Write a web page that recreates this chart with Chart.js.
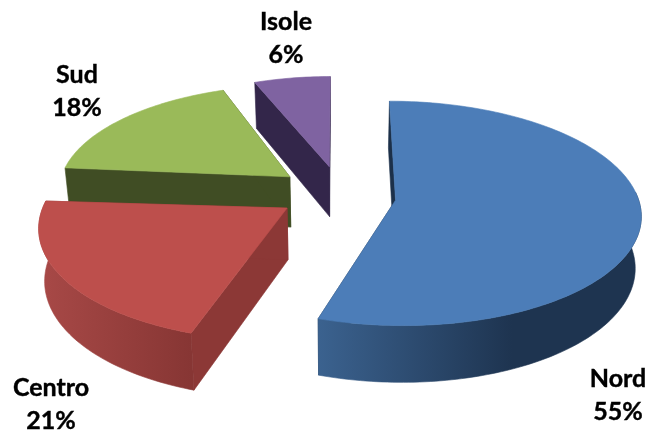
<!DOCTYPE html>
<html>
<head>
<meta charset="utf-8">
<script src="https://cdn.jsdelivr.net/npm/chart.js@4"></script>
<style>
  html, body { margin: 0; background: #fff; }
  canvas { display: block; }
</style>
</head>
<body>
<canvas id="pie3d" width="646" height="430"></canvas>
<script>
const categories = ['Nord', 'Centro', 'Sud', 'Isole'];
const shares = [55, 21, 18, 6];
const topColors = ['#4c7db8', '#bd4f4c', '#9aba59', '#7f63a1'];

// side wall colours: cut face, outer wall light end, outer wall dark end
const wallColors = [
    ['#1c3049', '#3b628f', '#1e3450'],
    ['#8c3836', '#a84947', '#873634'],
    ['#404d24', '#404d24', '#404d24'],
    ['#33264a', '#33264a', '#33264a']
];

// painter's order, back slices first
const drawOrder = [3, 2, 0, 1];

// small per slice corrections for the squashed perspective
const sliceFix = [
    { scale: 0.98, dx: 2, dy: 3, persp: 0.12, turn: 0 },
    { scale: 0.97, dx: 0, dy: 0, persp: 0.15, turn: 0 },
    { scale: 0.94, dx: 0, dy: -1, persp: 0.12, turn: 0.026 },
    { scale: 0.92, dx: 4, dy: -1, persp: 0.1, turn: 0 }
];

const labelSpots = [[618, 379], [51, 388], [77, 75], [286, 22]];

const SQUASH = 0.453;
const PERSP = 0.1;
const DEPTH = 51;
const BOTTOM_NARROW = 0.98;

const pie3d = {
    id: 'pie3d',
    beforeDatasetsDraw(chart) {
        const ctx = chart.ctx;
        const arcs = chart.getDatasetMeta(0).data;

        drawOrder.forEach(function (i) {
            const arc = arcs[i];
            const fix = sliceFix[i];
            const R = arc.outerRadius;
            const mid = (arc.startAngle + arc.endAngle) / 2;
            const ox = Math.cos(mid) * arc.options.offset / R;
            const oy = Math.sin(mid) * arc.options.offset / R;

            function project(px, py, low) {
                const s = 1 / (1 - fix.persp * py);
                let x = R * px * s;
                let y = R * SQUASH * py * s + fix.dy;
                if (low) {
                    x *= BOTTOM_NARROW;
                    y += DEPTH / (1 - PERSP * py);
                }
                return [arc.x + x + fix.dx, arc.y + y];
            }

            const apex = [ox, oy];
            const rim = [];
            const steps = Math.ceil((arc.endAngle - arc.startAngle) / 0.02);
            for (let n = 0; n <= steps; n++) {
                const a = arc.startAngle + fix.turn + (arc.endAngle - arc.startAngle) * n / steps;
                rim.push([ox + Math.cos(a) * fix.scale, oy + Math.sin(a) * fix.scale]);
            }

            function fillPoly(points, style) {
                ctx.beginPath();
                points.forEach(function (p, n) {
                    if (n === 0) ctx.moveTo(p[0], p[1]);
                    else ctx.lineTo(p[0], p[1]);
                });
                ctx.closePath();
                ctx.fillStyle = style;
                ctx.strokeStyle = style;
                ctx.lineWidth = 0.6;
                ctx.fill();
                ctx.stroke();
            }

            const colors = wallColors[i];
            const first = rim[0];
            const last = rim[rim.length - 1];

            // the two cut faces
            fillPoly([project(apex[0], apex[1]), project(first[0], first[1]), project(first[0], first[1], true), project(apex[0], apex[1], true)], colors[0]);
            fillPoly([project(apex[0], apex[1]), project(last[0], last[1]), project(last[0], last[1], true), project(apex[0], apex[1], true)], colors[0]);

            // outer wall, only the part facing the viewer
            const front = rim.filter(function (p) { return p[1] >= oy - 0.08; });
            if (front.length > 1) {
                const upper = front.map(function (p) { return project(p[0], p[1]); });
                const lower = front.map(function (p) { return project(p[0], p[1], true); }).reverse();
                const xs = upper.map(function (p) { return p[0]; });
                const minX = Math.min.apply(null, xs);
                const maxX = Math.max.apply(null, xs);
                const grad = ctx.createLinearGradient(minX, 0, maxX, 0);
                if (i === 0) {
                    grad.addColorStop(0, colors[1]);
                    grad.addColorStop(0.6, colors[2]);
                    grad.addColorStop(1, colors[2]);
                } else {
                    grad.addColorStop(0, colors[1]);
                    grad.addColorStop(1, colors[2]);
                }
                fillPoly(upper.concat(lower), grad);
            }

            // top face
            const topFace = [project(apex[0], apex[1])].concat(rim.map(function (p) { return project(p[0], p[1]); }));
            fillPoly(topFace, arc.options.backgroundColor);
        });

        return false;
    },
    afterDraw(chart) {
        const ctx = chart.ctx;
        ctx.save();
        ctx.fillStyle = '#000';
        ctx.strokeStyle = '#000';
        ctx.lineWidth = 0.4;
        ctx.font = 'bold 25px Lato, "Open Sans", sans-serif';
        ctx.textAlign = 'center';
        ctx.textBaseline = 'middle';
        categories.forEach(function (name, i) {
            const x = labelSpots[i][0];
            const y = labelSpots[i][1];
            ctx.fillText(name, x, y);
            ctx.strokeText(name, x, y);
            ctx.fillText(shares[i] + '%', x, y + 33);
            ctx.strokeText(shares[i] + '%', x, y + 33);
        });
        ctx.restore();
    }
};

new Chart(document.getElementById('pie3d'), {
    type: 'pie',
    data: {
        labels: categories,
        datasets: [{
            data: shares,
            backgroundColor: topColors,
            borderWidth: 0,
            offset: 58
        }]
    },
    options: {
        responsive: false,
        animation: false,
        radius: 247,
        layout: { padding: { left: 26, bottom: 44 } },
        plugins: {
            legend: { display: false },
            tooltip: { enabled: false }
        }
    },
    plugins: [pie3d]
});
</script>
</body>
</html>
